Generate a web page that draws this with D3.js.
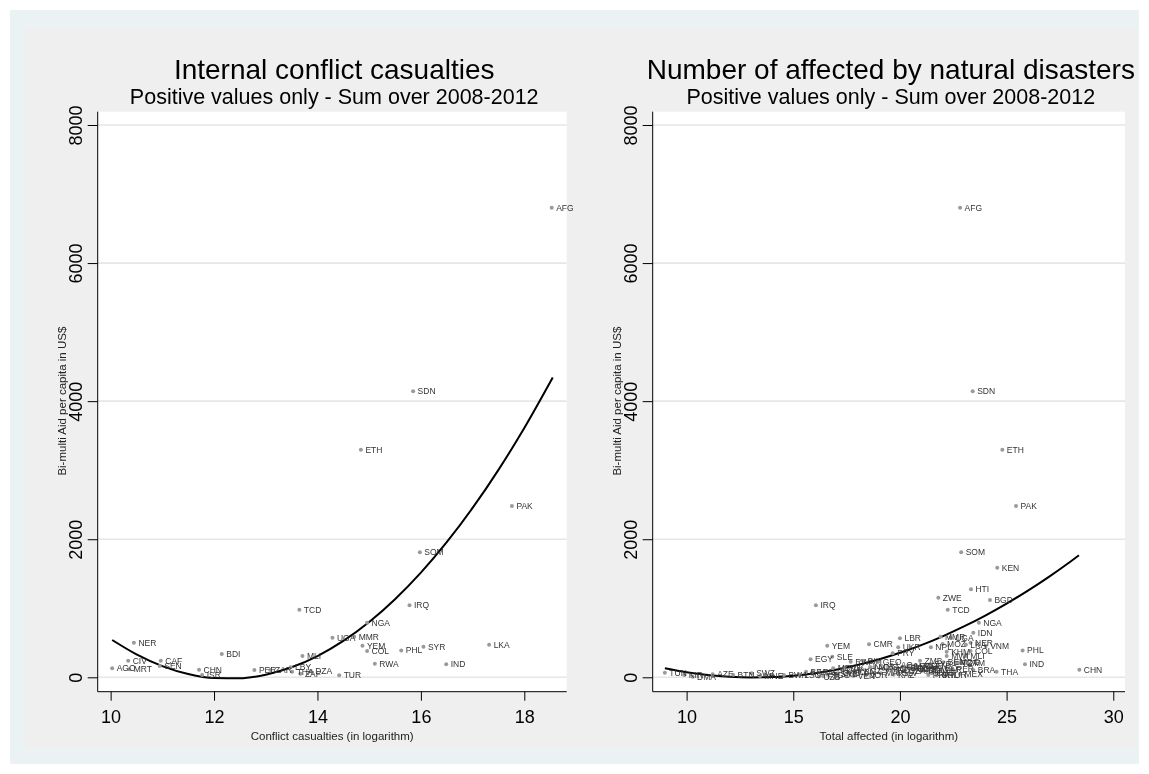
<!DOCTYPE html>
<html>
<head>
<meta charset="utf-8">
<script src="https://cdn.jsdelivr.net/npm/d3@7"></script>
<style>
  body { margin: 0; background: #ffffff; }
  svg { display: block; will-change: transform; }
  text { font-family: "Liberation Sans", Arial, Helvetica, sans-serif; }
</style>
</head>
<body>
<svg id="chart" width="1149" height="774"></svg>
<script>
// ---- Aid per capita (US$) shared vertical axis ----
const yTicks = [0, 2000, 4000, 6000, 8000];

// ---- Panel 1: internal conflict casualties (log) ----
const conflictTicks = [10, 12, 14, 16, 18];
const conflictIso = ["AFG","SDN","ETH","PAK","SOM","IRQ","TCD","NGA","MMR","UGA","NER","LKA","YEM","SYR","PHL","COL","BDI","MLI","CIV","CAF","RWA","IND","SEN","LBY","AGO","MRT","CHN","PER","ZAR","DZA","THA","ZAF","ISR","TUR"];
const conflictLog = [18.53,15.85,14.84,17.76,15.98,15.78,13.65,14.96,14.71,14.29,10.45,17.32,14.87,16.05,15.62,14.96,12.15,13.71,10.34,10.97,15.11,16.49,10.95,13.48,10.03,10.36,11.71,12.78,13.09,13.87,13.51,13.67,11.77,14.42];
const conflictAid = [6800,4145,3297,2480,1813,1045,980,790,588,574,501,472,458,443,390,380,337,309,241,241,197,188,164,145,130,116,111,106,106,91,81,52,33,29];
// quadratic fit line read at sample points
const conflictFitX = [10.03,10.5,11,11.5,12,12.5,13,13.5,14,14.5,15,15.5,16,16.5,17,17.5,18,18.55];
const conflictFitY = [540,332,162,47,-11,-15,38,145,308,527,801,1131,1516,1957,2453,3005,3612,4343];

// ---- Panel 2: total affected by natural disasters (log) ----
const disasterTicks = [10, 15, 20, 25, 30];
const disasterIso = ["AFG","SDN","ETH","PAK","SOM","KEN","HTI","ZWE","BGD","IRQ","TCD","NGA","IDN","MMR","UGA","LBR","NER","LKA","MOZ","CMR","YEM","VNM","NPL","UKR","PHL","COL","KHM","PRY","MWI","MLI","SLE","EGY","ZMB","BIH","RWA","GEO","BEN","MDG","GTM","IND","MDV","PNG","PER","CHN","BRA","THA","MEX","CHL","PRK","VEN","TUN","KIR","DMA","AZE","BTN","SWZ","MNE","BWA","LSO","ARM","FJI","GAB","TJK","KGZ","NIC","HND","SLV","BOL","ECU","DOM","CUB","JAM","LAO","MNG","GHA","TGO","BFA","SEN","MRT","AGO","TZA","DZA","ZAR","SRB","LBN","JOR","MAR","GIN","COG","SYR","UZB","KAZ","IRN","TUR"];
const disasterLog = [22.82,23.41,24.80,25.44,22.87,24.56,23.33,21.80,24.22,16.06,22.24,23.70,23.44,21.90,22.38,20.00,23.31,23.09,22.00,18.55,16.59,24.02,21.45,19.92,25.75,23.31,22.19,19.66,22.19,23.09,16.83,15.81,20.94,18.28,17.69,18.98,22.03,22.60,22.89,25.86,16.87,19.22,22.44,28.41,23.44,24.53,22.81,21.72,21.33,17.81,8.98,9.89,10.28,11.22,12.18,13.05,13.44,14.56,15.30,15.90,16.40,17.10,17.40,18.10,18.60,19.40,19.90,20.30,20.70,21.10,21.50,20.40,19.60,18.80,17.30,16.60,15.60,21.20,20.80,21.60,22.70,20.20,21.90,17.00,17.90,18.40,19.10,20.10,20.60,21.40,16.20,19.70,21.00,22.10];
const disasterAid = [6800,4145,3297,2480,1813,1588,1274,1153,1120,1045,980,790,646,588,574,565,501,472,482,478,458,453,434,434,390,380,371,348,309,309,298,261,241,241,226,226,217,215,203,188,130,120,118,111,106,81,48,29,33,19,67,33,9,43,33,58,19,33,40,80,20,60,140,90,150,110,60,130,170,100,60,160,180,150,100,40,80,164,116,130,210,91,106,50,70,30,60,150,120,190,10,40,90,29];

const disasterFitX = [8.98,10,11,12,13,14,15,16,17,18,19,20,21,22,23,24,25,26,27,28,28.39];
const disasterFitY = [130,73,33,8,-2,3,24,60,110,177,258,355,467,594,737,895,1068,1256,1459,1678,1767];

// ---- page background ----
const svg = d3.select("#chart");
svg.append("rect").attr("width", 1149).attr("height", 774).attr("fill", "#ffffff");
svg.append("rect").attr("x", 10).attr("y", 10).attr("width", 1129).attr("height", 754).attr("fill", "#eaf2f3");
svg.append("rect").attr("x", 25).attr("y", 28).attr("width", 1112).attr("height", 721).attr("fill", "#efefef");

const yScale = d3.scaleLinear().domain([0, 8000]).range([677.3, 125]);

function drawPanel(cfg) {
  const g = svg.append("g");
  const { left, right } = cfg;
  const top = 111.7, bottom = 691.7;
  const x = d3.scaleLinear().domain(cfg.domain).range([left, right]);
  const cx = (left + right) / 2;

  // titles
  g.append("text").attr("x", cx + cfg.titleShift).attr("y", 79).attr("text-anchor", "middle")
    .attr("font-size", 28).attr("fill", "#000").text(cfg.title);
  g.append("text").attr("x", cx + cfg.titleShift).attr("y", 104).attr("text-anchor", "middle")
    .attr("font-size", 21.5).attr("fill", "#000").text(cfg.subtitle);

  // plot region
  g.append("rect").attr("x", left).attr("y", top).attr("width", right - left)
    .attr("height", bottom - top).attr("fill", "#ffffff");

  // horizontal grid
  g.append("g").selectAll("line").data(yTicks).join("line")
    .attr("x1", left).attr("x2", right)
    .attr("y1", d => yScale(d)).attr("y2", d => yScale(d))
    .attr("stroke", "#e6e6e6").attr("stroke-width", 1.6);

  // y axis with vertical tick labels
  const yAxis = d3.axisLeft(yScale).tickValues(yTicks).tickSize(10).tickFormat(d3.format("d"));
  const ya = g.append("g").attr("transform", `translate(${left},0)`).call(yAxis);
  ya.select(".domain").attr("d", `M0,${top}V${bottom}`).attr("stroke", "#000");
  ya.selectAll(".tick line").attr("stroke", "#000");
  ya.selectAll(".tick text")
    .attr("font-size", 18).attr("fill", "#000").attr("font-family", null)
    .attr("transform", "rotate(-90)").attr("x", 0).attr("y", -16).attr("dy", 0)
    .attr("text-anchor", "middle");

  // x axis
  const xAxis = d3.axisBottom(x).tickValues(cfg.ticks).tickSize(9).tickPadding(10).tickFormat(d3.format("d"));
  const xa = g.append("g").attr("transform", `translate(0,${bottom})`).call(xAxis);
  xa.select(".domain").attr("d", `M${left},0H${right}`).attr("stroke", "#000");
  xa.selectAll(".tick line").attr("stroke", "#000");
  xa.selectAll(".tick text").attr("font-size", 18).attr("fill", "#000").attr("font-family", null);

  // axis titles
  g.append("text").attr("x", cx).attr("y", 740).attr("text-anchor", "middle")
    .attr("font-size", 11.5).attr("fill", "#222").text(cfg.xTitle);
  g.append("text").attr("transform", `translate(${left - 32},${yScale(4000)}) rotate(-90)`)
    .attr("text-anchor", "middle").attr("font-size", 11.5).attr("fill", "#222")
    .text("Bi-multi Aid per capita in US$");

  // quadratic fit
  const line = d3.line().x(d => x(d[0])).y(d => yScale(d[1])).curve(d3.curveMonotoneX);
  g.append("path").datum(cfg.fitX.map((v, i) => [v, cfg.fitY[i]]))
    .attr("d", line).attr("fill", "none").attr("stroke", "#000").attr("stroke-width", 2);

  // labelled points
  const pts = cfg.iso.map((c, i) => ({ c, x: cfg.xs[i], y: cfg.ys[i] }));
  const pg = g.append("g");
  pg.selectAll("circle").data(pts).join("circle")
    .attr("cx", d => x(d.x)).attr("cy", d => yScale(d.y)).attr("r", 2)
    .attr("fill", "#9a9a9a");
  pg.selectAll("text").data(pts).join("text")
    .attr("x", d => x(d.x) + 4.5).attr("y", d => yScale(d.y) + 3)
    .attr("font-size", 8.5).attr("fill", "#333").text(d => d.c);
}

drawPanel({
  left: 97.7, right: 566.7, domain: [9.75, 18.82], ticks: conflictTicks, titleShift: 2,
  title: "Internal conflict casualties",
  subtitle: "Positive values only - Sum over 2008-2012",
  xTitle: "Conflict casualties (in logarithm)",
  iso: conflictIso, xs: conflictLog, ys: conflictAid,
  fitX: conflictFitX, fitY: conflictFitY
});

drawPanel({
  left: 652.7, right: 1125, domain: [8.41, 30.55], ticks: disasterTicks, titleShift: 2,
  title: "Number of affected by natural disasters",
  subtitle: "Positive values only - Sum over 2008-2012",
  xTitle: "Total affected (in logarithm)",
  iso: disasterIso, xs: disasterLog, ys: disasterAid,
  fitX: disasterFitX, fitY: disasterFitY
});
</script>
</body>
</html>
